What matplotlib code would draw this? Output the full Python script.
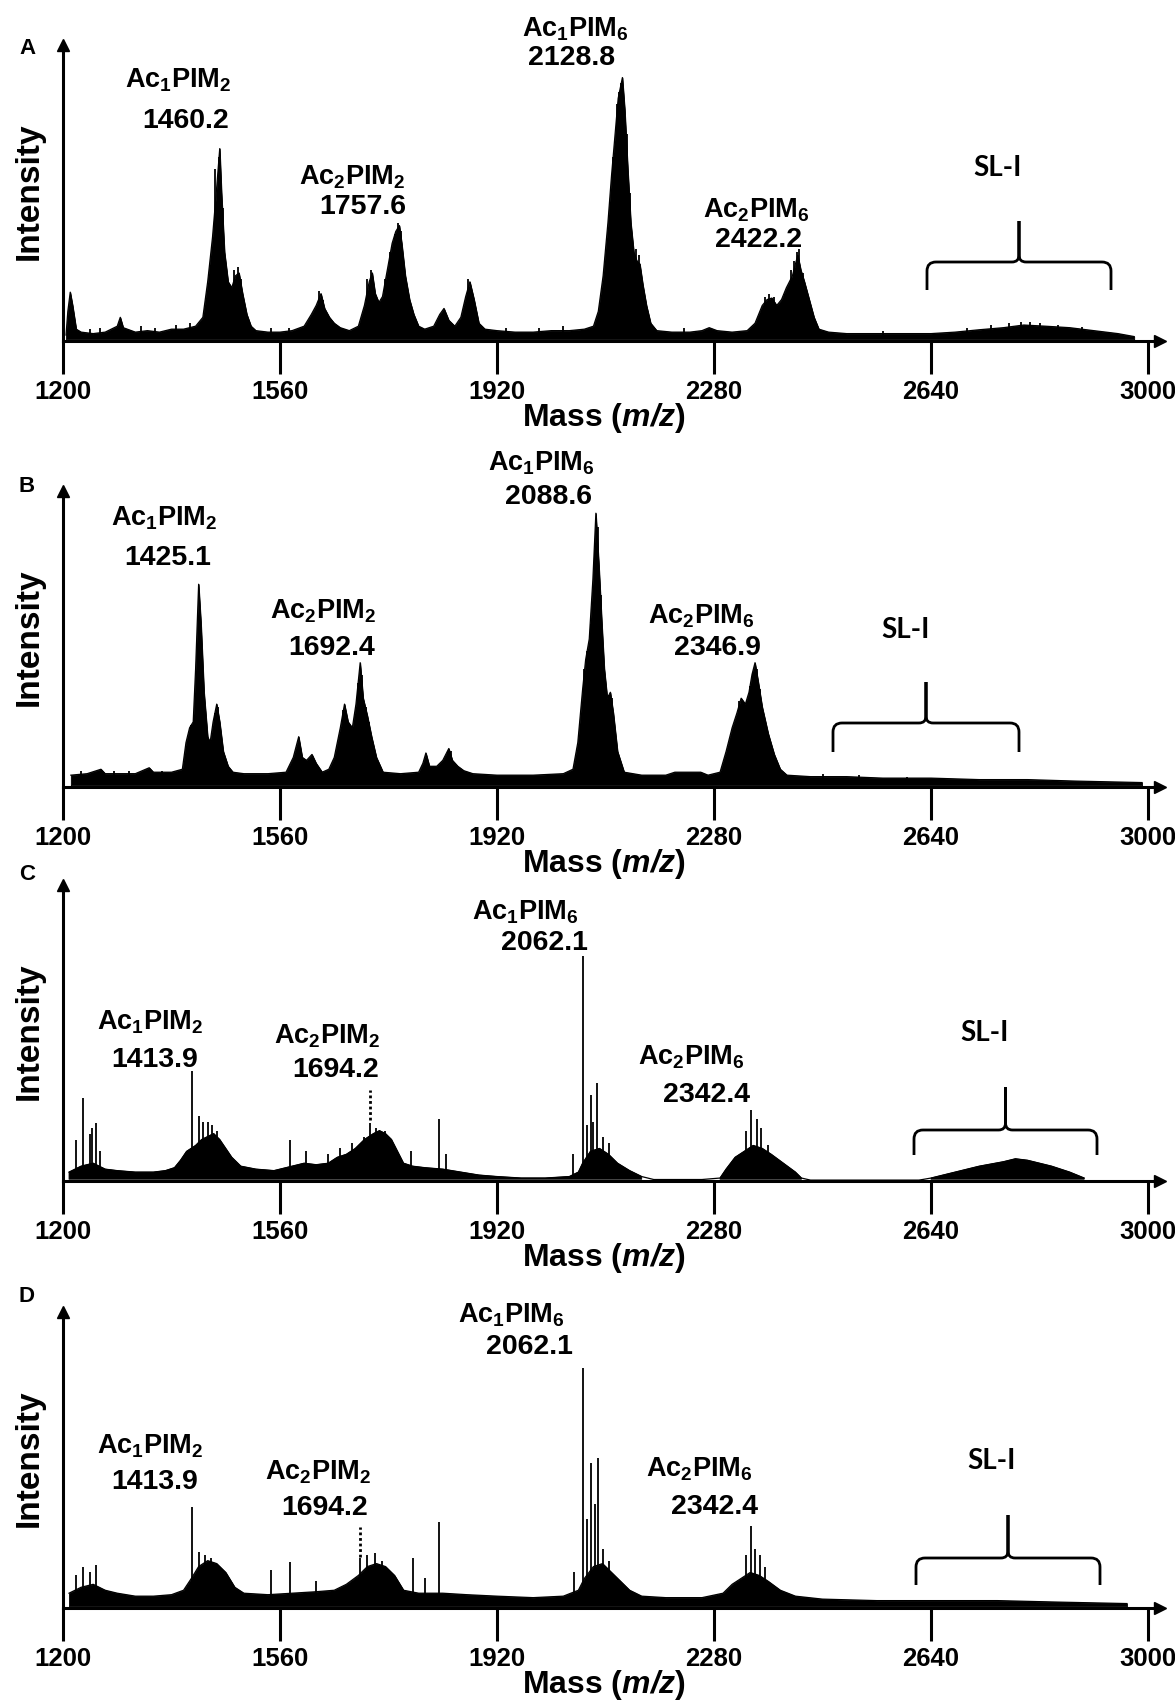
import matplotlib
matplotlib.use("Agg")
import matplotlib.pyplot as plt
from matplotlib.path import Path
from matplotlib.patches import PathPatch

# fonts
plt.rcParams['font.family'] = ['Liberation Sans', 'DejaVu Sans']
plt.rcParams['mathtext.fontset'] = 'custom'
plt.rcParams['mathtext.rm'] = 'Liberation Sans'
plt.rcParams['mathtext.bf'] = 'Liberation Sans:bold'
plt.rcParams['mathtext.it'] = 'Liberation Sans:italic'
try:
    plt.rcParams['mathtext.bfit'] = 'Liberation Sans:bold:italic'
except KeyError:
    pass

# ---- data (intensity in % of axis height) ----
ticks = [1200, 1560, 1920, 2280, 2640, 3000]
species = [r'$\mathbf{Ac_1PIM_2}$', r'$\mathbf{Ac_2PIM_2}$',
           r'$\mathbf{Ac_1PIM_6}$', r'$\mathbf{Ac_2PIM_6}$']

a_masses = ['1460.2', '1757.6', '2128.8', '2422.2']
b_masses = ['1425.1', '1692.4', '2088.6', '2346.9']
c_masses = ['1413.9', '1694.2', '2062.1', '2342.4']
d_masses = ['1413.9', '1694.2', '2062.1', '2342.4']

# panel A envelope
a_mz = [1205, 1208, 1212, 1216, 1222, 1230, 1250, 1270, 1290, 1295, 1300, 1320, 1340,
        1360, 1380, 1400, 1420, 1432, 1440, 1448, 1455, 1460, 1463, 1468, 1474, 1480,
        1486, 1492, 1498, 1505, 1512, 1520, 1540, 1560, 1580, 1600, 1612, 1620, 1628,
        1634, 1642, 1650, 1660, 1675, 1690, 1700, 1708, 1713, 1718, 1724, 1730, 1738,
        1746, 1752, 1758, 1762, 1768, 1775, 1782, 1790, 1800, 1815, 1825, 1832, 1840,
        1850, 1860, 1868, 1875, 1882, 1890, 1900, 1920, 1950, 1980, 2010, 2040, 2065,
        2080, 2088, 2096, 2104, 2110, 2116, 2121, 2125, 2128, 2132, 2137, 2142, 2147,
        2152, 2157, 2162, 2168, 2175, 2185, 2210, 2240, 2260, 2272, 2285, 2310, 2335,
        2348, 2360, 2368, 2376, 2384, 2392, 2400, 2410, 2415, 2419, 2424, 2430, 2438,
        2446, 2454, 2470, 2500, 2550, 2600, 2640, 2680, 2720, 2760, 2794, 2830, 2870,
        2910, 2950, 2977]
a_int = [2, 10, 16.5, 12, 4, 3, 2.5, 3, 5, 8, 4.5, 3, 3.5,
         3, 4, 4, 5, 8, 20, 35, 52, 65, 50, 30, 20, 18,
         22, 23, 16, 9, 5, 3.5, 3, 3, 3.5, 5, 9, 12, 16,
         11, 8, 6, 4.5, 3.5, 5, 12, 20, 23, 16, 13, 15, 24,
         33, 37, 39, 33, 22, 14, 9, 5, 4, 5, 9, 11, 7,
         5, 8, 15, 20, 14, 6, 4, 3.5, 3, 3, 3.5, 3.5, 4,
         5, 10, 22, 40, 56, 70, 82, 86, 89, 78, 58, 40, 30,
         27, 26, 19, 12, 6, 3.5, 3, 3, 3.5, 4.5, 3.5, 3, 3.5,
         6, 12, 14, 14.5, 12, 14, 18, 22, 26, 29, 24, 20, 14,
         8, 4, 3, 2.5, 2.5, 2.5, 2.5, 3, 3.8, 4.5, 5.4, 5, 4.5,
         3.5, 2.5, 1.5]
a_spk_mz = [1245, 1262, 1330, 1352, 1388, 1410, 1452, 1458, 1466, 1484, 1490, 1496,
            1545, 1575, 1624, 1631, 1704, 1711, 1735, 1742, 1750, 1756, 1760, 1872,
            1935, 1990, 2030, 2112, 2119, 2123, 2126, 2135, 2140, 2150, 2155, 2230,
            2365, 2372, 2380, 2397, 2408, 2413, 2417, 2421, 2427, 2560, 2700, 2740,
            2770, 2790, 2805, 2820, 2850, 2890]
a_spk_int = [4, 4.5, 5, 4.5, 5.5, 6, 58, 62, 45, 24, 25, 21,
             4.5, 4.5, 17, 14, 21, 24, 21, 30, 36, 40, 37, 21,
             4.5, 4.5, 5, 62, 80, 84, 87, 70, 50, 31, 29, 4.5,
             15, 16, 15, 16, 24, 27, 30, 31, 23, 3.5, 4.5, 5.5,
             6, 6.5, 6.3, 6, 5.5, 4.8]

# panel B envelope
b_mz = [1213, 1240, 1263, 1270, 1300, 1320, 1343, 1350, 1380, 1398, 1404, 1410, 1416,
        1420, 1425, 1429, 1434, 1440, 1444, 1449, 1455, 1460, 1466, 1474, 1482, 1500,
        1540, 1570, 1582, 1591, 1597, 1604, 1613, 1620, 1630, 1641, 1650, 1660, 1667,
        1673, 1680, 1686, 1693, 1698, 1705, 1712, 1720, 1731, 1760, 1790, 1797, 1802,
        1808, 1820, 1830, 1840, 1846, 1855, 1865, 1880, 1920, 1980, 2030, 2046, 2054,
        2062, 2067, 2073, 2079, 2084, 2089, 2094, 2098, 2103, 2108, 2113, 2120, 2131,
        2160, 2200, 2215, 2240, 2258, 2270, 2290, 2300, 2310, 2318, 2325, 2332, 2338,
        2343, 2348, 2353, 2360, 2370, 2380, 2390, 2401, 2440, 2500, 2560, 2640, 2720,
        2800, 2880, 2990]
b_int = [4, 4.5, 6, 4.5, 4.5, 4.5, 6.5, 5, 5, 6, 15, 20, 22,
         40, 68.5, 55, 32, 17, 15, 22, 28, 22, 12, 7, 5, 4.5,
         4.5, 5, 10, 17, 10, 9, 11, 8, 5, 6, 10, 20, 28,
         22, 20, 28, 42, 30, 24, 17, 10, 5, 4.5, 5, 8, 11.5,
         7, 7, 9, 13, 9, 7, 5.5, 4.5, 4, 4, 4.5, 6, 15,
         33, 43, 50, 70, 92.5, 75, 55, 40, 30, 32, 25, 12, 5,
         4, 4, 5, 5, 5, 4, 5, 12, 20, 25, 30, 28, 32,
         38, 42, 36, 27, 18, 11, 6, 4, 3.5, 3.5, 3, 3, 2.5,
         2.5, 2, 1.5]
b_spk_mz = [1230, 1285, 1310, 1365, 1413, 1418, 1452, 1457, 1664, 1670, 1689, 1696,
            1702, 1708, 1838, 1843, 2064, 2070, 2076, 2082, 2087, 2092, 2106, 2110,
            2322, 2328, 2335, 2340, 2345, 2351, 2356, 2460, 2520, 2600]
b_spk_int = [5.5, 5.5, 5.5, 5.5, 21, 24, 25, 27, 26, 25, 35, 38,
             27, 22, 12, 12, 40, 46, 55, 80, 88, 65, 31, 30,
             29, 27, 29, 34, 39, 40, 33, 4.5, 4, 3.5]

# panel C envelope + spikes
c_mz = [1210, 1230, 1250, 1270, 1290, 1320, 1350, 1370, 1385, 1395, 1405, 1420, 1430,
        1440, 1450, 1460, 1470, 1480, 1495, 1520, 1550, 1580, 1600, 1620, 1640, 1655,
        1670, 1685, 1700, 1715, 1725, 1735, 1745, 1755, 1765, 1780, 1800, 1830, 1860,
        1890, 1920, 1960, 2000, 2040, 2055, 2062, 2075, 2090, 2105, 2120, 2140, 2160,
        2180, 2260, 2290, 2300, 2315, 2330, 2345, 2360, 2375, 2395, 2415, 2425, 2440,
        2620, 2640, 2680, 2720, 2760, 2780, 2800, 2840, 2870, 2894]
c_int = [3, 5, 6, 4, 3.5, 3, 3, 3.5, 4.5, 7, 10, 12, 14,
         15, 16, 14, 11, 8, 5, 4, 3.5, 5, 6, 5.5, 6, 8,
         9, 11, 14, 16, 17, 16, 14, 10, 6, 5, 4.5, 4, 3,
         2, 1.5, 1, 1, 1.5, 3, 6, 10, 11, 9, 6, 3.5, 1.5,
         0.5, 0.5, 1, 4, 8, 10, 12, 11, 9, 6, 3, 1, 0.3,
         0.3, 1, 3, 5, 6.5, 7.5, 7, 5, 3, 1]
c_spk_mz = [1222, 1233, 1244, 1248, 1255, 1262, 1414, 1425, 1432, 1440, 1447, 1455,
            1577, 1603, 1640, 1660, 1680, 1700, 1710, 1720, 1735, 1778, 1824, 1835,
            2046, 2062, 2070, 2076, 2080, 2086, 2095, 2105, 2333, 2341, 2351, 2358, 2370]
c_spk_int = [14, 28, 16, 18, 19.6, 10, 37, 22, 20, 20, 19, 17,
             14, 10, 9, 11, 13, 15, 19.6, 18, 17, 10, 21, 9,
             9, 76, 19, 29, 20, 33, 15, 13, 17, 24, 21, 18, 12]

# panel D envelope + spikes
d_mz = [1210, 1230, 1250, 1270, 1290, 1320, 1350, 1380, 1400, 1413, 1425, 1440, 1455,
        1470, 1485, 1500, 1540, 1580, 1620, 1650, 1670, 1690, 1705, 1720, 1735, 1750,
        1765, 1790, 1830, 1870, 1920, 1980, 2030, 2055, 2065, 2080, 2095, 2110, 2125,
        2140, 2160, 2200, 2260, 2295, 2310, 2325, 2340, 2355, 2370, 2390, 2415, 2460,
        2550, 2650, 2750, 2850, 2965]
d_int = [5, 7, 8, 6, 5, 4, 4, 4.5, 6, 10, 14, 16, 15,
         12, 7, 5, 4.5, 5, 5.5, 6, 8, 11, 14, 15, 14, 11,
         6, 5, 5, 4.5, 4, 3.5, 4, 6, 10, 14, 15, 12, 9,
         6, 4, 3.5, 3.5, 5, 8, 10, 12, 11, 9, 6, 4, 3,
         2.5, 2.5, 2.5, 2, 1.5]
d_spk_mz = [1222, 1233, 1244, 1255, 1414, 1425, 1435, 1445, 1545, 1577, 1620, 1693,
            1705, 1718, 1730, 1781, 1800, 1824, 2048, 2062, 2070, 2076, 2082, 2088,
            2096, 2105, 2333, 2341, 2348, 2356, 2365]
d_spk_int = [11, 14, 12, 14.5, 34, 19, 18, 17, 13, 15.5, 9, 17,
             18, 18.5, 16, 17, 10, 29, 12, 81, 30, 49, 35, 50.7,
             20, 16, 18, 27.7, 20, 18, 14]

# ---- layout (pixels of the 1175x1700 figure) ----
W, H = 1175, 1700
X0, PXU = 63, 0.6028          # pixel of m/z 1200, pixels per m/z unit
XMAX = 3020
AXH = 296


def fx(px):
    return px / W


def fy(py):
    return 1 - py / H


fig = plt.figure(figsize=(W / 100, H / 100), dpi=100)

panels = [
    dict(letter='A', axis=341, letter_xy=(28, 48),
         env=(a_mz, a_int), spk=(a_spk_mz, a_spk_int), masses=a_masses,
         names_xy=[(178, 80), (352, 177), (575, 29), (756, 210)],
         nums_xy=[(186, 121), (363, 207), (572, 58), (759, 240)],
         sl=(998, 168), brace=(927, 1111, 262, 290, 221), dots=None),
    dict(letter='B', axis=787, letter_xy=(27, 487),
         env=(b_mz, b_int), spk=(b_spk_mz, b_spk_int), masses=b_masses,
         names_xy=[(164, 518), (323, 611), (541, 463), (701, 616)],
         nums_xy=[(168, 558), (332, 648), (549, 497), (717, 648)],
         sl=(905, 630), brace=(833, 1019, 723, 752, 682), dots=None),
    dict(letter='C', axis=1181, letter_xy=(27, 875),
         env=(c_mz, c_int), spk=(c_spk_mz, c_spk_int), masses=c_masses,
         names_xy=[(150, 1022), (327, 1036), (525, 912), (691, 1057)],
         nums_xy=[(155, 1060), (336, 1070), (544, 943), (707, 1095)],
         sl=(984, 1033), brace=(914, 1097, 1130, 1155, 1087),
         dots=(1709, 30.7, 20.6)),
    dict(letter='D', axis=1608, letter_xy=(27, 1297),
         env=(d_mz, d_int), spk=(d_spk_mz, d_spk_int), masses=d_masses,
         names_xy=[(150, 1446), (318, 1472), (511, 1315), (699, 1469)],
         nums_xy=[(155, 1482), (325, 1508), (529, 1347), (715, 1507)],
         sl=(992, 1461), brace=(916, 1100, 1558, 1585, 1515),
         dots=(1693, 27.4, 17.2)),
]

for p in panels:
    axis_y = p['axis']
    ax = fig.add_axes([fx(X0), fy(axis_y), (XMAX - 1200) * PXU / W, AXH / H])
    ax.set_xlim(1200, XMAX)
    ax.set_ylim(0, 100)
    for s in ['top', 'right']:
        ax.spines[s].set_visible(False)
    ax.spines['left'].set_linewidth(2.2)
    ax.spines['bottom'].set_linewidth(2.2)
    ax.plot(1, 0, '>k', ms=9, transform=ax.transAxes, clip_on=False)
    ax.plot(0, 1, '^k', ms=9, transform=ax.transAxes, clip_on=False)
    ax.set_yticks([])
    ax.set_xticks(ticks)
    ax.set_xticklabels([str(t) for t in ticks], fontsize=18.5, fontweight='bold')
    ax.tick_params(axis='x', direction='out', length=24, width=2.2, pad=4)

    mz, it = p['env']
    ax.fill_between(mz, 0.6, it, where=[v > 0.6 for v in it], color='black', lw=0.6)
    ax.plot(mz, it, color='black', lw=0.9)
    ax.vlines(p['spk'][0], 1, p['spk'][1], color='black', lw=1.3)
    if p['dots'] is not None:
        m, y1, y2 = p['dots']
        ax.plot([m, m], [y2, y1], color='black', ls=(0, (1, 1)), lw=2)

    # texts
    fig.text(fx(p['letter_xy'][0]), fy(p['letter_xy'][1]), p['letter'],
             fontsize=16, fontweight='bold', ha='center', va='center')
    fig.text(fx(29), fy(axis_y - 150), 'Intensity', rotation=90,
             fontsize=24, fontweight='bold', ha='center', va='center')
    fig.text(fx(604), fy(axis_y + 77), r'$\mathbf{Mass\ (}\mathbfit{m/z}\mathbf{)}$',
             fontsize=23, ha='center', va='center')
    for name, mass, nxy, mxy in zip(species, p['masses'], p['names_xy'], p['nums_xy']):
        fig.text(fx(nxy[0]), fy(nxy[1]), name, fontsize=19.5, ha='center', va='center')
        fig.text(fx(mxy[0]), fy(mxy[1]), mass, fontsize=20.5, fontweight='bold',
                 ha='center', va='center')
    fig.text(fx(p['sl'][0]), fy(p['sl'][1]), 'SL-I', fontsize=20, fontweight='bold',
             family=['Lato', 'DejaVu Sans'], ha='center', va='center')

    # curly bracket
    xl, xr, yh, ye, yt = p['brace']
    xm = (xl + xr) / 2
    r, c = 9, 7
    pts = [(xl, ye), (xl, yh + r), (xl, yh), (xl + r, yh), (xm - c, yh), (xm, yh),
           (xm, yh - c), (xm, yt), (xm, yh - c), (xm, yh), (xm + c, yh),
           (xr - r, yh), (xr, yh), (xr, yh + r), (xr, ye)]
    codes = [Path.MOVETO, Path.LINETO, Path.CURVE3, Path.CURVE3, Path.LINETO,
             Path.CURVE3, Path.CURVE3, Path.LINETO, Path.LINETO, Path.CURVE3,
             Path.CURVE3, Path.LINETO, Path.CURVE3, Path.CURVE3, Path.LINETO]
    verts = [(fx(x), fy(y)) for x, y in pts]
    fig.patches.append(PathPatch(Path(verts, codes), transform=fig.transFigure,
                                 fill=False, lw=2, color='black', capstyle='butt'))

fig.savefig('out.png', dpi=100)
